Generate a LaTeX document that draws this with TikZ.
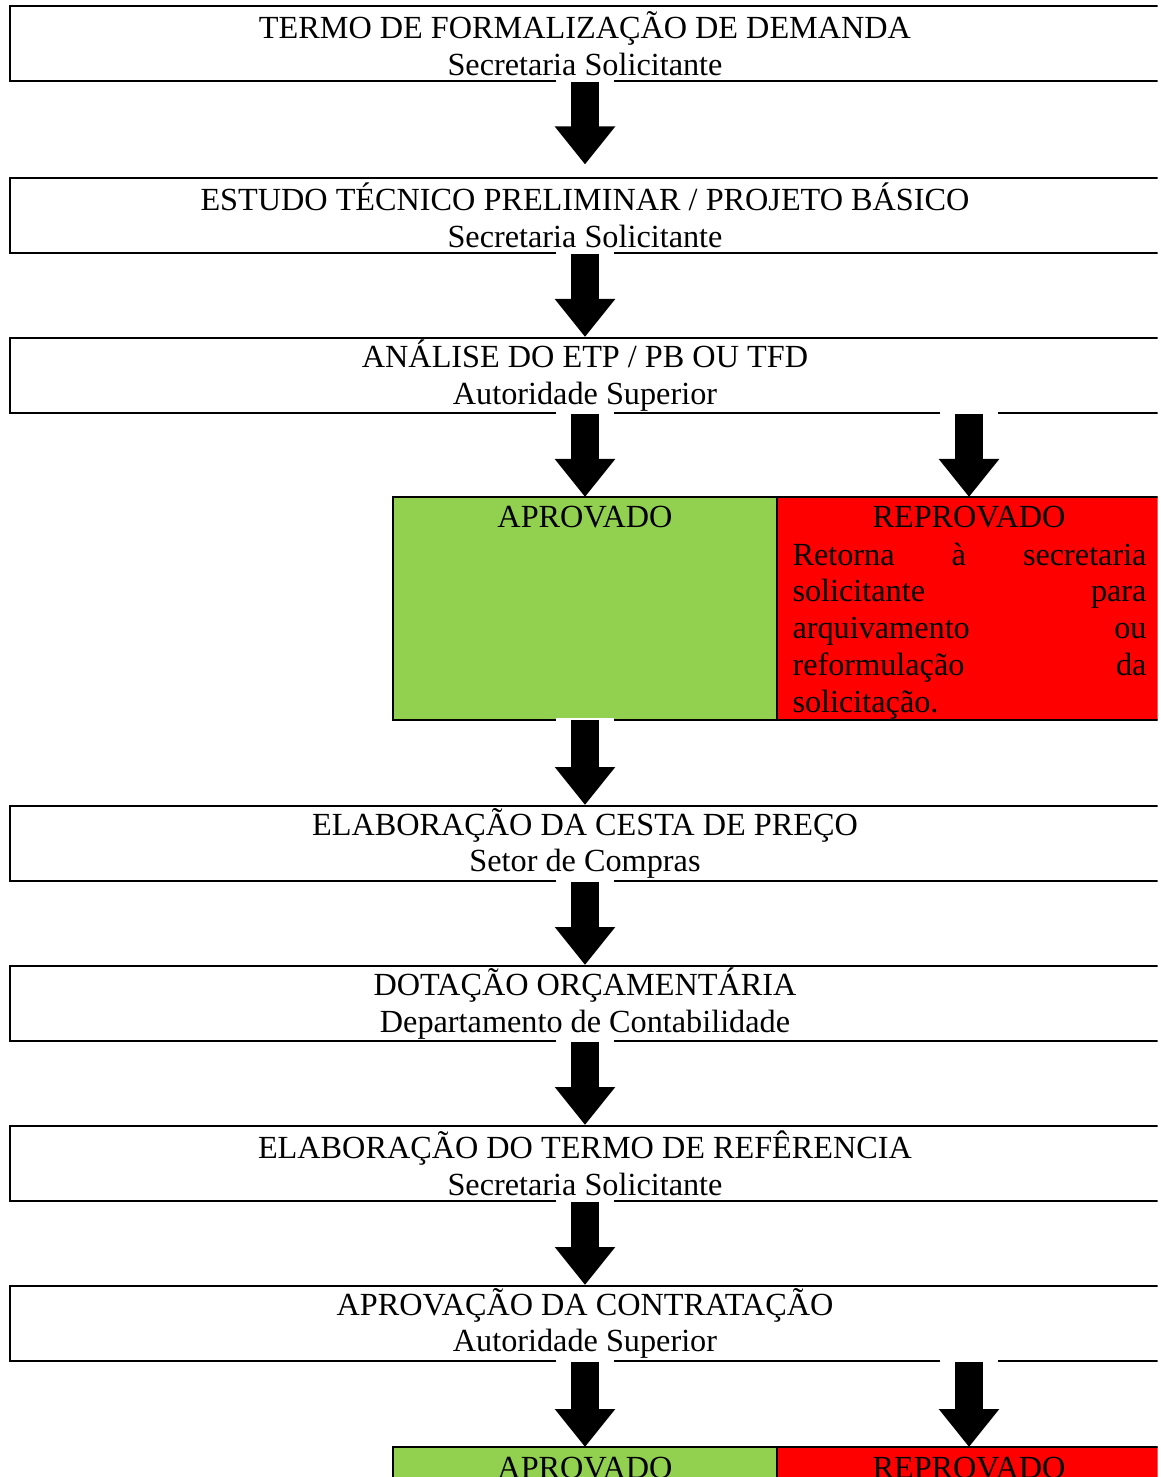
\documentclass[tikz,border=0pt]{standalone}
\usepackage{fontspec}
\setmainfont{Liberation Serif}
\usetikzlibrary{arrows.meta, positioning}
\definecolor{verdeok}{HTML}{92D050}
\definecolor{vermelho}{HTML}{FF0000}

\begin{document}
\begin{tikzpicture}[x=0.4pt, y=-0.4pt,
    font=\fontsize{12.9}{14.7}\selectfont,
    etapa/.style={draw, line width=0.8pt, minimum width=460pt, minimum height=30pt,
        inner sep=0pt, align=center},
    aprov/.style={draw, line width=0.8pt, fill=verdeok, minimum width=153.6pt,
        minimum height=89.2pt, outer sep=0pt},
    reprov/.style={aprov, fill=vermelho},
    seta/.style={line width=11.2pt, -{Triangle[width=23.2pt, length=15.2pt]},
        preaction={draw=white, line width=23.2pt, shorten <=-0.8pt,
            shorten >=4pt, arrows=-}}]
    \useasboundingbox (0,0) rectangle (1160,1477);
    \begin{scope}
    \clip (0,0) rectangle (1157.5,1477);

    % etapas do fluxo
    \node[etapa] (tfd) at (585,43.5) {TERMO DE FORMALIZAÇÃO DE DEMANDA\\Secretaria Solicitante};
    \node[etapa] (etp) at (585,215.5) {ESTUDO TÉCNICO PRELIMINAR / PROJETO BÁSICO\\Secretaria Solicitante};
    \node[etapa] (analise) at (585,375.5) {ANÁLISE DO ETP / PB OU TFD\\Autoridade Superior};
    \node[etapa] (cesta) at (585,843.5) {ELABORAÇÃO DA CESTA DE PREÇO\\Setor de Compras};
    \node[etapa] (dotacao) at (585,1003.5) {DOTAÇÃO ORÇAMENTÁRIA\\Departamento de Contabilidade};
    \node[etapa] (tr) at (585,1163.5) {ELABORAÇÃO DO TERMO DE REFÊRENCIA\\Secretaria Solicitante};
    \node[etapa] (contrat) at (585,1323.5) {APROVAÇÃO DA CONTRATAÇÃO\\Autoridade Superior};

    % decisoes
    \node[aprov] (apr1) at (585,608.5) {};
    \node[reprov, right=0pt of apr1] (rep1) {};
    \node[aprov] (apr2) at (585,1558.5) {};
    \node[reprov, right=0pt of apr2] (rep2) {};

    \node[anchor=base] (apr1txt) at ([yshift=-12.4pt]apr1.north) {APROVADO};
    \node[anchor=base] (rep1txt) at ([yshift=-12.4pt]rep1.north) {REPROVADO};
    \node[anchor=base west, text width=141.6pt, align=left, inner sep=0pt] (rep1obs)
        at ([xshift=6pt, yshift=-27.2pt]rep1.north west)
        {Retorna\hfill à\hfill secretaria\\ solicitante\hfill para\\
         arquivamento\hfill ou\\ reformulação\hfill da\\ solicitação.};
    \node[anchor=base] (apr2txt) at ([yshift=-12.4pt]apr2.north) {APROVADO};
    \node[anchor=base] (rep2txt) at ([yshift=-12.4pt]rep2.north) {REPROVADO};

    % setas
    \draw[seta, shorten >=5pt] (tfd) -- (etp);
    \draw[seta] (etp) -- (analise);
    \draw[seta] (analise) -- (apr1);
    \draw[seta] (analise.south -| rep1) -- (rep1.north);
    \draw[seta] (apr1) -- (cesta);
    \draw[seta] (cesta) -- (dotacao);
    \draw[seta] (dotacao) -- (tr);
    \draw[seta] (tr) -- (contrat);
    \draw[seta] (contrat) -- (apr2);
    \draw[seta] (contrat.south -| rep2) -- (rep2.north);
    \end{scope}
\end{tikzpicture}
\end{document}
